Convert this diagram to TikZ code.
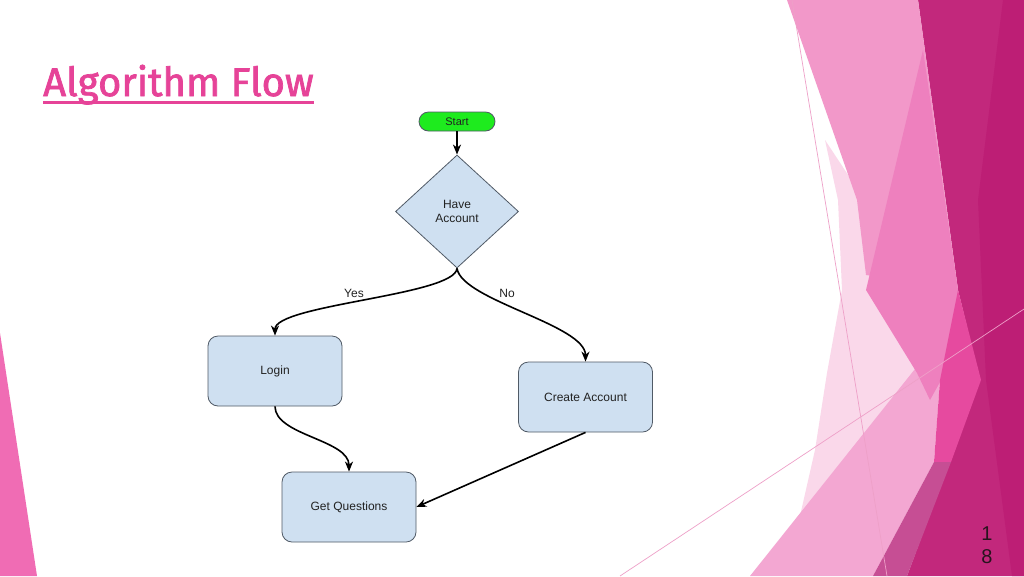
\documentclass[tikz,border=0pt]{standalone}
\usepackage{fontspec}
\setmainfont{Liberation Sans}
\newfontfamily\titlefont[FakeBold=1.8]{Fira Sans}
\usetikzlibrary{shapes.geometric, arrows.meta, positioning, calc}

\definecolor{titlepink}{RGB}{230,67,152}
\definecolor{boxfill}{RGB}{207,224,241}
\definecolor{boxline}{RGB}{80,90,102}
\definecolor{flowtext}{RGB}{34,34,34}
\definecolor{startgreen}{RGB}{30,235,30}
\definecolor{pagenum}{RGB}{40,20,30}
\definecolor{facetdark}{RGB}{194,40,124}
\definecolor{facetdarker}{RGB}{189,30,117}
\definecolor{facetlight}{RGB}{242,152,201}
\definecolor{facetmid}{RGB}{238,128,190}
\definecolor{facetpale}{RGB}{250,216,234}
\definecolor{facetband}{RGB}{243,167,210}
\definecolor{facetbright}{RGB}{230,74,159}
\definecolor{facetmauve}{RGB}{198,78,148}
\definecolor{facetleft}{RGB}{240,108,180}
\definecolor{facetline}{RGB}{238,160,200}

\begin{document}
\begin{tikzpicture}[x=1pt, y=1pt,
  flowbox/.style={draw=boxline, line width=0.8pt, fill=boxfill, rounded corners=10pt,
    minimum width=134pt, minimum height=70pt, inner sep=0pt, text=flowtext,
    font=\fontsize{12}{14}\selectfont},
  decision/.style={diamond, draw=boxline, line width=0.8pt, fill=boxfill,
    minimum width=123pt, minimum height=113pt, inner sep=0pt, align=center,
    text=flowtext, font=\fontsize{12}{14}\selectfont},
  startbox/.style={draw=boxline, line width=0.8pt, fill=startgreen, rounded corners=9.5pt,
    minimum width=76pt, minimum height=19pt, inner sep=0pt, text=flowtext,
    font=\fontsize{11}{13}\selectfont},
  flow/.style={-{Stealth[length=10pt, width=8pt, inset=3pt]}, line width=1.6pt},
  edgelabel/.style={text=flowtext, font=\fontsize{12}{14}\selectfont}]

\fill[white] (0,0) rectangle (1024,-576);
\useasboundingbox (0,0) rectangle (1024,-576);

\fill[facetdark] (918,0) -- (1024,0) -- (1024,-576) -- (907,-576) -- (980,-380) -- (958,-290) -- cycle;
\fill[facetdarker] (1003,0) -- (1024,0) -- (1024,-576) -- (1012,-576) -- (986,-380) -- (978,-200) -- cycle;
\fill[facetpale] (825,-140) -- (858,-190) -- (870,-250) -- (945,-430) -- (790,-560) -- (815,-450) -- (827,-373) -- (842,-290) -- (838,-200) -- cycle;
\fill[facetband] (750,-576) -- (873,-576) -- (934,-462) -- (940,-380) -- (958,-315) -- cycle;
\fill[facetlight] (787,0) -- (918,0) -- (958,-290) -- (866,-275) -- (857,-200) -- cycle;
\fill[facetmid] (923,-50) -- (958,-290) -- (962,-310) -- (945,-373) -- (930,-400) -- (917,-373) -- (866,-290) -- cycle;
\fill[facetbright] (958,-290) -- (981,-380) -- (951,-462) -- (934,-462) -- (940,-380) -- cycle;
\fill[facetmauve] (873,-576) -- (907,-576) -- (951,-462) -- (934,-462) -- cycle;
\fill[facetleft] (0,-333) -- (0,-576) -- (37,-576) -- cycle;
\draw[facetline, line width=0.7pt] (792,0) -- (887,-576);
\draw[facetline, line width=0.7pt] (620,-576) -- (1024,-309);

\node[anchor=base west, inner sep=0pt, text=titlepink, font=\titlefont\fontsize{40}{48}\selectfont] (title) at (43,-96) {Algorithm Flow};
\draw[titlepink, line width=3pt] ([yshift=-6.5pt]title.base west) -- ([yshift=-6.5pt]title.base east);

\node[startbox] (start) at (457,-121.5) {Start};
\node[decision] (have) at (457,-211.5) {Have\\Account};
\node[flowbox] (login) at (275,-371) {Login};
\node[flowbox] (create) at (585.5,-397) {Create Account};
\node[flowbox] (getq) at (349,-507) {Get Questions};

\draw[flow] (start.south) -- (have.north);
\draw[flow] (have.south) .. controls +(-2,-27) and +(0,31) .. (login.north);
\draw[flow] (have.south) .. controls +(5,-32) and +(0,37) .. (create.north);
\draw[flow] (login.south) .. controls +(0,-29) and +(0,32) .. (getq.north);
\draw[flow] (create.south) -- (getq.east);

\node[edgelabel] (yes) at (354,-293) {Yes};
\node[edgelabel] (no) at (507,-293) {No};

\node[align=center, text=pagenum, font=\fontsize{20}{23}\selectfont] (page) at (987,-545) {1\\8};
\end{tikzpicture}
\end{document}
